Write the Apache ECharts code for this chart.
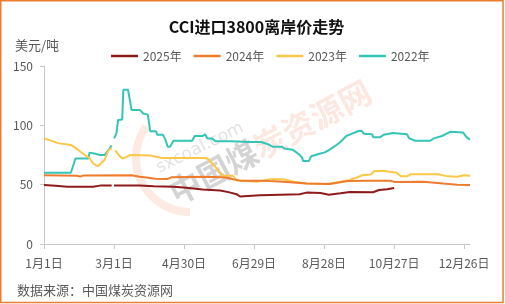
<!DOCTYPE html>
<html><head><meta charset="utf-8">
<script src="https://cdn.jsdelivr.net/npm/echarts@6/dist/echarts.min.js"></script>
<style>html,body{margin:0;padding:0;background:#fff}#c{width:505px;height:304px}</style>
</head><body><div id="c"></div>
<script>
const FONT = '"Noto Sans CJK SC","Noto Sans",sans-serif';
const chartTitle = 'CCI进口3800离岸价走势';
const unitLabel = '美元/吨';
const sourceLabel = '数据来源：中国煤炭资源网';
const seriesNames = ['2025年', '2024年', '2023年', '2022年'];
const seriesColors = ['#8E1B1B', '#EE7B2E', '#FAC748', '#35C4B5'];
// x = day of (leap) year, 0 = 1月1日; y = USD/t
const data2025 = [[0,49.7],[10,49],[20,48.3],[42,48.3],[48,49.2],[58,49.2],[59,null],[60,49.2],[82,49.2],[94,48.6],[111,48.3],[122,47.5],[136,46],[151,45],[159,43.5],[165,42],[168,40],[185,41],[194,41.3],[219,42],[225,43.3],[237,43],[244,41.5],[254,42.7],[262,43.8],[282,43.6],[287,45.5],[294,46.2],[300,47.2]];
const data2024 = [[0,58],[28,57.5],[31,56.8],[34,57.8],[75,58],[82,56.7],[88,56],[95,55],[106,54.8],[109,56.2],[139,56.7],[156,56],[162,54.5],[168,53.4],[185,53.4],[193,53],[205,52.5],[225,51],[245,50.6],[260,53],[277,53.4],[297,53.4],[300,52.3],[325,52.5],[342,51],[354,50],[365,49.7]];
const data2023 = [[0,89],[8,86.5],[12,85],[23,83.5],[27,81],[31,78],[35,75],[39,72.5],[42,68],[46,65.5],[49,68],[52,71],[55,78.5],[57,80.5],[58,80],[59,null],[61,79],[64,75],[67,72],[70,73],[74,75],[91,74.5],[101,72.5],[137,72.5],[140,72],[146,66],[153,57.5],[162,57.5],[165,53.5],[175,53],[182,52.5],[186,53],[194,54.5],[205,54.5],[214,52.5],[225,51],[242,50.5],[254,52.5],[262,54],[268,56],[273,58],[280,58.5],[283,61.5],[292,61.5],[302,60],[306,57],[311,57],[314,58.7],[338,58.7],[346,57],[354,56.7],[360,58],[365,57.5]];
const data2022 = [[0,60],[23,60],[27,72],[38,72],[39,77],[44,76],[48,75],[52,75],[55,79],[58,83],[59,null],[60,89],[62,93],[63.5,104.5],[67,105],[68,130],[72,130],[75,113],[82,113],[85,110],[89,109],[91,95],[96,95],[97,92],[102,92],[104,88],[106,82],[108,82],[111,87],[127,87],[129,91],[136,91],[138,92.5],[140,89],[144,89],[147,86.5],[160,86.5],[176,86],[186,86],[192,84],[196,82],[204,82],[206,80.5],[213,79.5],[218,76],[221,73],[222,70],[227,70],[229,74],[236,76],[240,77],[244,79],[247,81],[250,83],[254,86],[259,91],[264,93],[269,95],[272,95.5],[274,93],[281,92.5],[282,90],[288,90],[291,92],[299,93.5],[311,92.5],[313,89],[318,87],[331,87],[334,89],[341,91],[348,94.5],[359,94],[362,90],[365,88]];
const tickDays = [0, 60, 120, 180, 240, 300, 360];
const tickLabels = ['1月1日', '3月1日', '4月30日', '6月29日', '8月28日', '10月27日', '12月26日'];
const yTicks = [0, 50, 100, 150];

const allData = [data2025, data2024, data2023, data2022];
const chart = echarts.init(document.getElementById('c'), null, {renderer: 'canvas'});
const axisGray = '#C8C8C8';
const labelGray = '#595959';
chart.setOption({
  animation: false,
  textStyle: {fontFamily: FONT},
  grid: {left: 44, right: 35, top: 66, bottom: 60, containLabel: false},
  legend: {
    data: seriesNames, left: 106, top: 45, icon: 'rect', itemWidth: 27, itemHeight: 2.5, itemGap: 12,
    textStyle: {fontFamily: FONT, fontSize: 12, color: labelGray}
  },
  xAxis: {
    type: 'value', min: 0, max: 365, interval: 60,
    axisLine: {show: true, lineStyle: {color: axisGray, width: 1}},
    axisTick: {show: true, length: 5, customValues: tickDays, lineStyle: {color: axisGray}},
    axisLabel: {customValues: tickDays, margin: 13, fontSize: 12, color: labelGray, fontFamily: FONT,
      formatter: v => { const i = tickDays.indexOf(v); return i >= 0 ? tickLabels[i] : ''; }},
    splitLine: {show: false}
  },
  yAxis: {
    type: 'value', min: yTicks[0], max: yTicks[yTicks.length - 1], interval: 50,
    axisLine: {show: true, lineStyle: {color: axisGray, width: 1}},
    axisTick: {show: true, length: 4, lineStyle: {color: axisGray}},
    axisLabel: {margin: 11, fontSize: 12, color: labelGray, fontFamily: FONT},
    splitLine: {show: false}
  },
  graphic: [
    {type: 'rect', silent: true, z: 100, shape: {x: 0.75, y: 0.75, width: 502.3, height: 301.8},
      style: {fill: 'none', stroke: '#ED7D31', lineWidth: 1.5}},
    {type: 'text', x: 256.5, y: 27, z: 100, style: {text: chartTitle, fontFamily: FONT, fontSize: 16, fontWeight: 'bold', fill: '#111', textAlign: 'center', textVerticalAlign: 'middle'}},
    {type: 'text', x: 15, y: 45, z: 100, style: {text: unitLabel, fontFamily: FONT, fontSize: 13, fill: labelGray, textAlign: 'left', textVerticalAlign: 'middle'}},
    {type: 'text', x: 17, y: 290, z: 100, style: {text: sourceLabel, fontFamily: FONT, fontSize: 13, fill: labelGray, textAlign: 'left', textVerticalAlign: 'middle'}},
    {type: 'arc', z: -1, silent: true, shape: {cx: 190, cy: 158, r: 54, startAngle: Math.PI * 0.5, endAngle: Math.PI * 1.2},
      style: {stroke: 'rgba(238,125,80,0.16)', lineWidth: 8, fill: 'none'}},
    {type: 'text', z: -1, silent: true, x: 200, y: 148, rotation: 0.46,
      style: {text: 'sxcoal.com', fontFamily: 'DejaVu Sans', fontSize: 17, fill: 'rgba(0,0,0,0.12)', textAlign: 'center', textVerticalAlign: 'middle'}},
    {type: 'text', z: -1, silent: true, x: 270, y: 142, rotation: 0.49,
      style: {text: '{g|中国煤}{p|炭资源网}', textAlign: 'center', textVerticalAlign: 'middle',
        rich: {g: {fontFamily: FONT, fontSize: 32, fontWeight: 'bold', fill: 'rgba(0,0,0,0.17)'},
               p: {fontFamily: FONT, fontSize: 32, fontWeight: 'bold', fill: 'rgba(240,120,80,0.17)'}}}}
  ],
  series: seriesNames.map((name, i) => ({
    name, type: 'line', data: allData[i], showSymbol: false, symbol: 'none', connectNulls: false,
    color: seriesColors[i], lineStyle: {color: seriesColors[i], width: 2}, z: 10 - i
  }))
});
</script></body></html>
